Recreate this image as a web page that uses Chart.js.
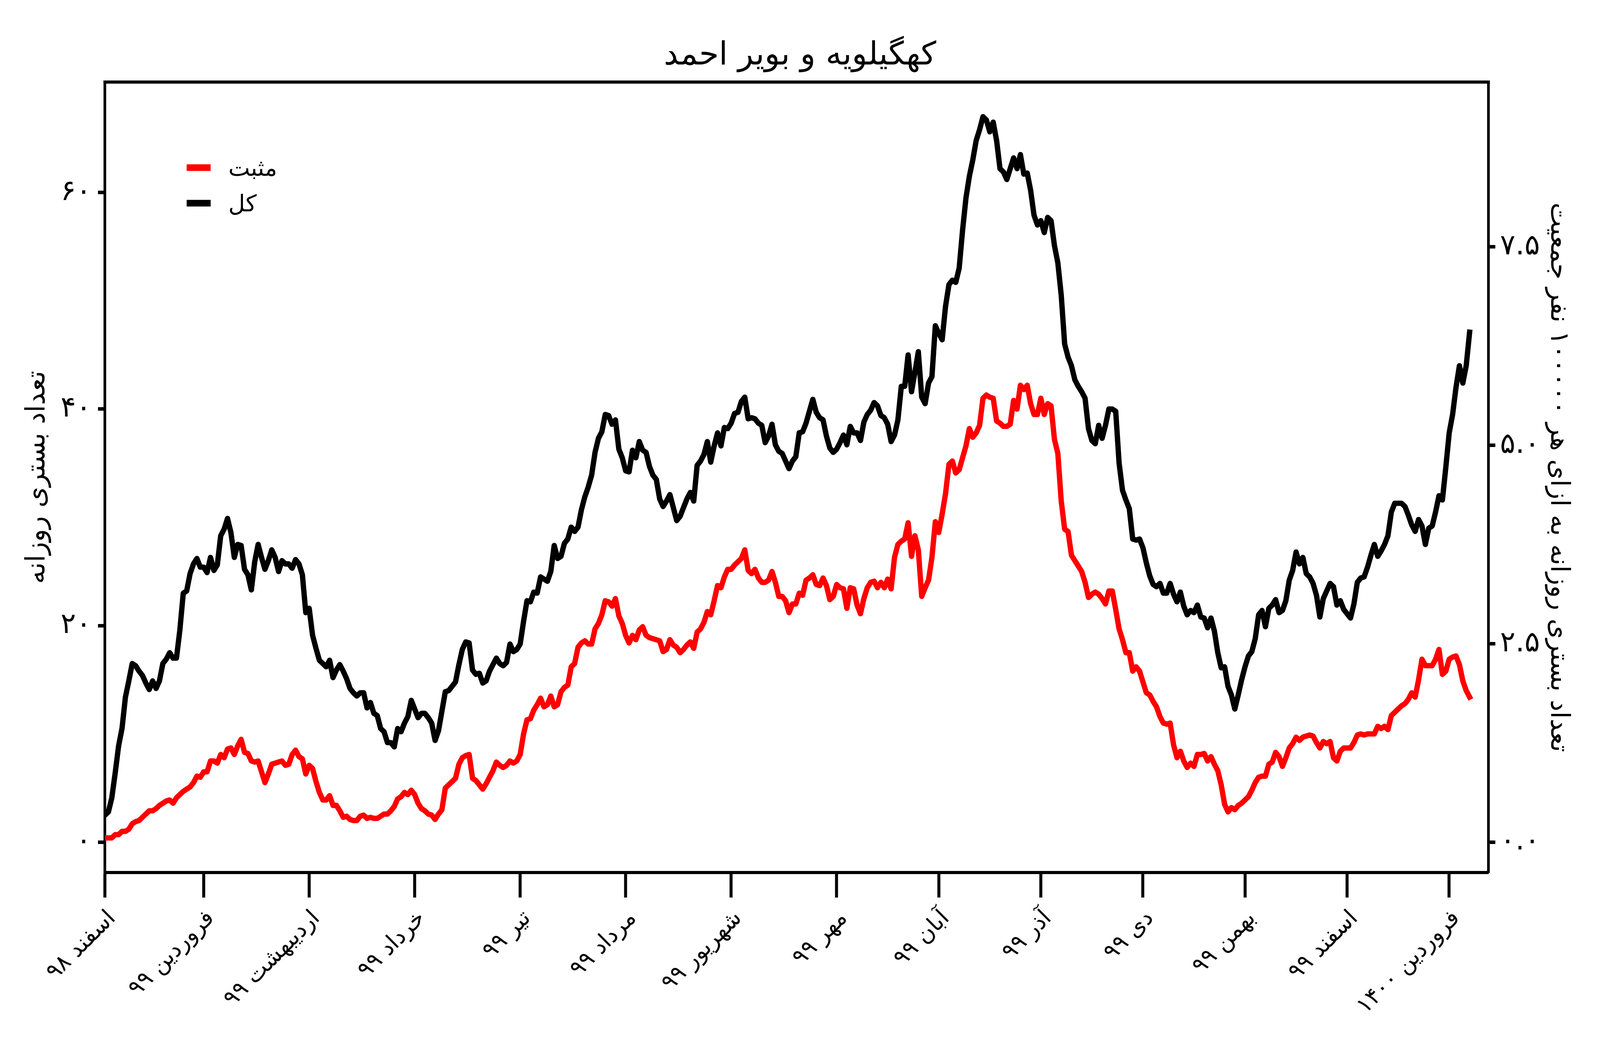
<!DOCTYPE html>
<html>
<head>
<meta charset="utf-8">
<script src="https://cdn.jsdelivr.net/npm/chart.js@4.4.1/dist/chart.umd.min.js"></script>
<style>
html,body{margin:0;padding:0;background:#ffffff;overflow:hidden;}
#wrap{position:absolute;left:0;top:0;width:100vw;height:100vh;}
canvas{display:block;}
</style>
</head>
<body>
<div id="wrap"><canvas id="c"></canvas></div>
<script>
// ---------- data ----------
const chartTitle = 'کهگیلویه و بویر احمد';
const leftAxisTitle = 'تعداد بستری روزانه';
const rightAxisTitle = 'تعداد بستری روزانه به ازای هر ۱۰۰۰۰۰ نفر جمعیت';
const seriesLabels = ['مثبت', 'کل'];

// day index 0 = 1 Esfand 1398
const monthStartDays = [0, 29, 60, 91, 122, 153, 184, 215, 245, 275, 305, 335, 365, 395];
const monthLabels = ['اسفند ۹۸', 'فروردین ۹۹', 'اردیبهشت ۹۹', 'خرداد ۹۹', 'تیر ۹۹', 'مرداد ۹۹', 'شهریور ۹۹',
                     'مهر ۹۹', 'آبان ۹۹', 'آذر ۹۹', 'دی ۹۹', 'بهمن ۹۹', 'اسفند ۹۹', 'فروردین ۱۴۰۰'];

const leftTickValues = [0, 20, 40, 60];
const leftTickLabels = ['۰', '۲۰', '۴۰', '۶۰'];
const rightTickValues = [0, 2.5, 5, 7.5];
const rightTickLabels = ['۰.۰', '۲.۵', '۵.۰', '۷.۵'];

// population in units of 100000 people
const populationPer100k = 7.33;

const positiveDaily = [
  0.4, 0.4, 0.4, 0.7, 0.7, 1.0, 1.0, 1.2, 1.7, 1.9,
  2.0, 2.3, 2.6, 2.9, 2.9, 3.1, 3.4, 3.6, 3.8, 3.9,
  3.6, 4.1, 4.4, 4.7, 4.9, 5.1, 5.5, 6.1, 6.0, 6.5,
  6.5, 7.5, 7.5, 7.3, 8.1, 7.8, 8.6, 8.7, 8.1, 8.9,
  9.5, 8.3, 8.2, 7.5, 7.4, 7.5, 6.5, 5.5, 6.3, 7.2,
  7.3, 7.4, 7.5, 7.1, 7.2, 8.1, 8.5, 7.9, 7.7, 6.3,
  7.1, 6.8, 5.6, 4.6, 3.9, 3.9, 4.3, 3.4, 3.4, 2.9,
  2.3, 2.4, 2.1, 2.0, 2.0, 2.4, 2.5, 2.2, 2.3, 2.2,
  2.2, 2.4, 2.6, 2.6, 2.9, 3.3, 4.0, 4.2, 4.6, 4.4,
  4.8, 4.4, 3.6, 3.1, 2.9, 2.6, 2.5, 2.1, 2.6, 3.0,
  5.0, 5.3, 5.6, 5.9, 7.2, 7.8, 8.0, 8.1, 5.9, 5.7,
  5.3, 4.9, 5.4, 6.0, 6.6, 7.4, 7.1, 6.9, 7.1, 7.5,
  7.3, 7.5, 8.1, 10.0, 11.3, 11.4, 12.2, 12.7, 13.3, 12.5,
  12.7, 13.5, 12.5, 12.7, 13.9, 14.3, 14.5, 16.2, 16.5, 18.0,
  18.4, 18.6, 18.3, 18.3, 19.7, 20.2, 21.0, 22.3, 22.2, 21.8,
  22.5, 20.9, 20.2, 19.1, 18.4, 19.1, 18.7, 19.6, 19.9, 19.1,
  18.9, 18.8, 18.7, 18.6, 17.6, 17.8, 18.7, 18.2, 18.0, 17.5,
  17.8, 18.2, 18.5, 17.9, 19.4, 19.7, 20.3, 21.3, 21.0, 22.3,
  23.7, 23.5, 24.5, 25.2, 25.2, 25.6, 25.9, 26.2, 27.0, 25.1,
  24.8, 25.2, 24.4, 24.0, 24.0, 24.2, 25.0, 24.0, 22.7, 22.7,
  22.3, 21.2, 22.0, 22.0, 23.0, 22.8, 24.2, 24.4, 24.7, 23.8,
  23.7, 24.4, 23.7, 22.4, 22.7, 23.8, 23.5, 23.4, 21.6, 23.5,
  23.4, 21.9, 21.1, 22.5, 23.5, 24.0, 24.1, 23.5, 24.0, 23.5,
  24.3, 23.4, 26.3, 27.5, 27.8, 28.0, 29.5, 26.4, 28.3, 27.0,
  22.7, 23.5, 24.2, 26.3, 29.6, 28.6, 30.3, 32.2, 34.9, 35.2,
  34.1, 34.4, 35.5, 36.6, 38.2, 37.4, 37.8, 38.5, 41.0, 41.3,
  41.1, 41.0, 38.9, 38.7, 38.4, 38.4, 38.6, 40.8, 40.0, 42.2,
  41.8, 42.2, 40.5, 39.5, 39.5, 41.0, 39.5, 40.5, 40.3, 37.2,
  35.9, 31.5, 28.9, 28.7, 26.5, 26.0, 25.5, 25.0, 24.0, 22.6,
  22.9, 23.1, 22.9, 22.5, 22.0, 23.2, 23.2, 21.5, 19.7, 18.7,
  17.5, 17.5, 15.8, 16.2, 15.8, 14.8, 13.8, 13.6, 13.0, 12.5,
  11.6, 11.0, 10.9, 11.0, 9.0, 7.8, 8.4, 7.5, 6.9, 7.3,
  7.0, 8.1, 8.1, 8.2, 7.5, 7.9, 7.2, 6.6, 5.3, 3.5,
  2.8, 3.2, 3.0, 3.4, 3.6, 3.9, 4.2, 4.8, 5.5, 6.0,
  6.1, 6.1, 7.2, 7.4, 8.3, 7.9, 7.0, 7.8, 8.7, 9.1,
  9.7, 9.4, 9.7, 9.8, 9.9, 9.8, 9.2, 8.7, 9.3, 9.1,
  9.3, 7.8, 7.5, 8.4, 8.7, 8.7, 8.7, 9.2, 9.9, 10.0,
  9.9, 10.0, 10.0, 10.0, 10.7, 10.5, 10.7, 10.4, 11.7, 12.0,
  12.3, 12.6, 12.8, 13.2, 13.8, 13.4, 15.0, 16.9, 16.3, 16.3,
  16.3, 16.9, 17.8, 15.5, 15.8, 16.9, 17.1, 17.2, 16.4, 14.9,
  14.0, 13.4
];

const totalDaily = [
  2.5, 2.8, 4.1, 6.4, 8.9, 10.5, 13.4, 14.9, 16.5, 16.3,
  15.8, 15.4, 14.7, 14.1, 14.9, 14.2, 14.9, 16.5, 16.9, 17.5,
  17.0, 17.0, 19.6, 23.0, 23.2, 24.8, 25.7, 26.2, 25.4, 25.4,
  24.9, 26.3, 25.1, 25.6, 28.3, 28.9, 29.9, 28.6, 26.3, 27.5,
  27.4, 25.2, 24.7, 23.3, 25.9, 27.5, 26.3, 25.2, 26.0, 27.0,
  26.3, 25.0, 26.0, 25.7, 25.7, 25.3, 26.1, 25.7, 24.7, 21.2,
  21.6, 19.1, 17.9, 16.8, 16.5, 16.2, 16.8, 15.2, 15.9, 16.4,
  15.8, 15.1, 14.2, 13.8, 13.5, 13.8, 13.8, 12.4, 12.9, 11.9,
  11.7, 10.5, 10.2, 9.2, 9.2, 8.8, 10.5, 10.2, 11.0, 11.6,
  13.1, 12.3, 11.5, 11.9, 11.9, 11.5, 11.0, 9.4, 10.3, 12.1,
  13.9, 14.0, 14.4, 14.8, 16.4, 17.8, 18.5, 18.4, 15.9, 15.5,
  15.6, 14.7, 14.9, 15.8, 16.4, 17.0, 16.5, 16.3, 16.6, 18.3,
  17.6, 17.8, 18.3, 20.4, 22.3, 22.2, 23.1, 23.0, 24.5, 24.3,
  24.1, 25.0, 27.4, 26.2, 26.4, 27.6, 28.0, 29.1, 28.7, 29.1,
  30.7, 31.9, 32.8, 33.9, 36.0, 37.3, 37.9, 39.5, 39.4, 38.6,
  39.0, 36.3, 35.5, 34.3, 34.2, 36.2, 35.5, 37.0, 36.2, 36.0,
  34.7, 33.9, 33.5, 31.7, 31.0, 31.5, 32.1, 30.9, 29.7, 30.1,
  30.9, 31.7, 32.3, 31.5, 34.8, 35.2, 35.8, 37.0, 35.1, 36.6,
  37.8, 36.6, 38.3, 38.2, 38.7, 39.6, 39.7, 40.7, 41.1, 39.1,
  39.2, 39.1, 38.7, 38.5, 36.9, 37.5, 38.6, 36.7, 36.1, 35.9,
  35.2, 34.5, 35.2, 35.6, 37.8, 37.9, 38.7, 39.8, 40.9, 39.7,
  39.2, 39.0, 37.5, 36.4, 36.0, 36.3, 36.9, 37.6, 36.7, 38.4,
  37.8, 37.8, 37.1, 38.8, 39.5, 39.9, 40.6, 40.3, 39.4, 39.2,
  38.6, 37.0, 37.6, 39.0, 42.1, 42.1, 45.0, 41.6, 43.4, 45.3,
  41.1, 40.5, 42.4, 43.0, 47.7, 47.0, 46.4, 49.5, 51.5, 51.9,
  51.7, 53.0, 56.5, 59.5, 61.5, 63.0, 64.8, 65.8, 67.0, 66.7,
  65.6, 66.5, 64.8, 62.2, 61.9, 61.2, 62.2, 63.2, 62.2, 63.5,
  61.7, 61.8, 60.2, 57.9, 57.0, 57.4, 56.3, 57.7, 57.4, 55.1,
  53.5, 50.5, 46.0, 44.8, 44.0, 42.7, 42.1, 41.6, 41.0, 38.2,
  37.1, 36.8, 38.5, 37.3, 38.5, 40.0, 40.0, 39.8, 35.0, 32.5,
  31.6, 30.8, 28.0, 27.9, 28.0, 27.2, 25.8, 24.6, 23.8, 23.6,
  23.9, 23.0, 23.0, 23.9, 22.9, 22.2, 23.1, 21.8, 21.0, 21.4,
  21.2, 21.9, 20.8, 20.7, 19.8, 20.7, 19.5, 17.5, 16.1, 16.2,
  14.4, 13.6, 12.3, 13.6, 15.0, 16.2, 17.2, 17.6, 18.8, 21.0,
  21.4, 19.9, 21.6, 21.9, 22.4, 21.2, 21.4, 22.3, 24.2, 25.1,
  26.8, 25.7, 26.3, 24.8, 24.5, 23.9, 22.8, 20.8, 22.5, 23.2,
  23.9, 23.6, 21.9, 22.3, 21.5, 21.1, 20.7, 22.0, 24.0, 24.4,
  24.5, 25.4, 26.5, 27.5, 26.4, 26.9, 27.5, 28.3, 30.5, 31.3,
  31.3, 31.3, 31.0, 30.2, 29.3, 28.7, 29.8, 29.2, 27.5, 29.0,
  29.2, 30.5, 32.0, 31.6, 34.6, 37.8, 39.5, 42.0, 44.0, 42.4,
  44.0, 47.1
];

// ---------- chart ----------
const FONT = 'DejaVu Sans';
const leftMin = -2.8, leftMax = 70.2;
const xMax = 406.5;

// sizes are designed for a 4800 x 2700 page and scaled to the real viewport
const W = window.innerWidth || 4800;
const H = window.innerHeight || 2700;
const SX = W / 4800;
const SY = H / 2700;
const px = v => v * SX;   // horizontal sizes
const py = v => v * SY;   // vertical sizes
const fs = v => v * SX;   // font sizes

const titleSize = fs(96);
const axisTitleSize = fs(78);

const toPoints = arr => arr.map((v, i) => ({ x: i, y: v }));

const frameTopPlugin = {
  id: 'frameTop',
  afterDraw(chart) {
    const { ctx, chartArea } = chart;
    ctx.save();
    ctx.strokeStyle = '#000';
    ctx.lineWidth = py(8);
    ctx.lineCap = 'square';
    ctx.beginPath();
    ctx.moveTo(chartArea.left, chartArea.top);
    ctx.lineTo(chartArea.right, chartArea.top);
    ctx.stroke();
    ctx.restore();
  }
};

const insideLegendPlugin = {
  id: 'insideLegend',
  afterDraw(chart) {
    const { ctx, chartArea } = chart;
    chart.data.datasets.forEach((ds, i) => {
      const y = chartArea.top + py(219 + i * 91);
      const x0 = chartArea.left + px(245);
      ctx.save();
      ctx.strokeStyle = ds.borderColor;
      ctx.lineWidth = py(17);
      ctx.lineCap = 'butt';
      ctx.beginPath();
      ctx.moveTo(x0, y);
      ctx.lineTo(x0 + px(72), y);
      ctx.stroke();
      ctx.fillStyle = '#000';
      ctx.font = fs(69) + 'px "' + FONT + '"';
      ctx.textBaseline = 'middle';
      ctx.textAlign = 'left';
      ctx.fillText(ds.label, x0 + px(125), y + py(6));
      ctx.restore();
    });
  }
};

const lineStyle = {
  borderWidth: Math.min(px(16), py(16)),
  pointRadius: 0,
  pointHoverRadius: 0,
  tension: 0,
  borderJoinStyle: 'round',
  borderCapStyle: 'square',
  fill: false
};

const tickFontDigits = { family: FONT, size: fs(86) };

new Chart(document.getElementById('c').getContext('2d'), {
  type: 'line',
  data: {
    datasets: [
      Object.assign({ label: seriesLabels[0], data: toPoints(positiveDaily),
        borderColor: '#ff0000', backgroundColor: '#ff0000', yAxisID: 'y', order: 2 }, lineStyle),
      Object.assign({ label: seriesLabels[1], data: toPoints(totalDaily),
        borderColor: '#000000', backgroundColor: '#000000', yAxisID: 'y', order: 1 }, lineStyle)
    ]
  },
  options: {
    responsive: true,
    maintainAspectRatio: false,
    animation: false,
    layout: { padding: 0 },
    events: [],
    plugins: {
      legend: { display: false },
      tooltip: { enabled: false },
      title: {
        display: true,
        text: chartTitle,
        color: '#000',
        font: { family: FONT, size: titleSize, weight: 'normal', lineHeight: 1.2 },
        padding: { top: py(144) - 0.6 * titleSize, bottom: py(210) - py(144) - 0.6 * titleSize }
      }
    },
    scales: {
      x: {
        type: 'linear',
        position: 'bottom',
        min: 0,
        max: xMax,
        afterBuildTicks: s => { s.ticks = monthStartDays.map(v => ({ value: v })); },
        afterFit: s => { s.height = py(467); },
        ticks: {
          autoSkip: false,
          maxRotation: 45,
          minRotation: 45,
          padding: py(20),
          labelOffset: px(22),
          color: '#000',
          font: { family: FONT, size: fs(68) },
          callback: v => {
            const i = monthStartDays.indexOf(v);
            return i >= 0 ? monthLabels[i] : '';
          }
        },
        grid: { display: true, drawOnChartArea: false, drawTicks: true, tickLength: py(64), tickWidth: px(9), tickColor: '#000' },
        border: { display: true, width: py(8), color: '#000' }
      },
      y: {
        type: 'linear',
        position: 'left',
        min: leftMin,
        max: leftMax,
        afterBuildTicks: s => { s.ticks = leftTickValues.map(v => ({ value: v })); },
        afterFit: s => { s.width = px(315); },
        ticks: {
          padding: px(20),
          color: '#000',
          font: tickFontDigits,
          callback: v => {
            const i = leftTickValues.indexOf(v);
            return i >= 0 ? leftTickLabels[i] : '';
          }
        },
        title: {
          display: true,
          text: leftAxisTitle,
          color: '#000',
          font: { family: FONT, size: fs(80), lineHeight: 1.2 },
          padding: { top: px(113) - 0.6 * fs(80), bottom: 0 }
        },
        grid: { display: true, drawOnChartArea: false, drawTicks: true, tickLength: px(21), tickWidth: py(9), tickColor: '#000' },
        border: { display: true, width: px(8), color: '#000' }
      },
      y2: {
        type: 'linear',
        position: 'right',
        min: leftMin / populationPer100k,
        max: leftMax / populationPer100k,
        afterBuildTicks: s => { s.ticks = rightTickValues.map(v => ({ value: v })); },
        afterFit: s => { s.width = px(335); },
        ticks: {
          padding: px(14),
          color: '#000',
          font: tickFontDigits,
          callback: v => {
            const i = rightTickValues.indexOf(v);
            return i >= 0 ? rightTickLabels[i] : '';
          }
        },
        title: {
          display: true,
          text: rightAxisTitle,
          color: '#000',
          font: { family: FONT, size: axisTitleSize, lineHeight: 1.2 },
          padding: { top: px(126) - 0.6 * axisTitleSize, bottom: 0 }
        },
        grid: { display: true, drawOnChartArea: false, drawTicks: true, tickLength: px(21), tickWidth: py(9), tickColor: '#000' },
        border: { display: true, width: px(8), color: '#000' }
      }
    }
  },
  plugins: [frameTopPlugin, insideLegendPlugin]
});
</script>
</body>
</html>
